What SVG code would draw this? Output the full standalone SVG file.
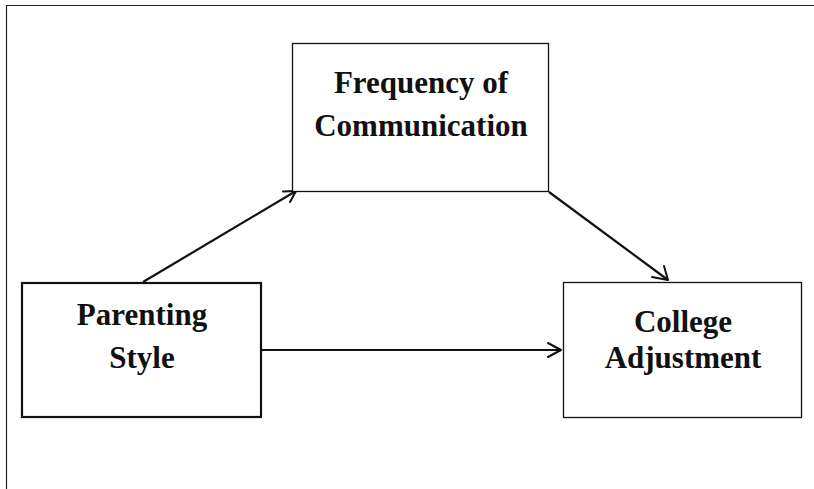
<svg xmlns="http://www.w3.org/2000/svg" width="814" height="489" viewBox="0 0 814 489">
<defs>
<style>
.box{fill:#fff;stroke:#111;stroke-width:1.3}
.thick{stroke-width:2.2}
.t{font-family:"Liberation Serif","Times New Roman",serif;font-weight:bold;font-size:31px;fill:#111;text-anchor:middle}
.c{stroke:#111;stroke-width:2.2;fill:none}
.h{stroke:#111;stroke-width:2;fill:none;stroke-linecap:round;stroke-linejoin:round}
</style>
</defs>
<rect width="814" height="489" fill="#fff"/>
<path d="M6.5,489 V5.5 H814" fill="none" stroke="#222" stroke-width="1.2"/>
<g id="connectors">
<line class="c" x1="143" y1="282" x2="296" y2="191"/>
<path class="h" d="M283,191.5 L296,191 L290,202"/>
<line class="c" x1="549" y1="192" x2="668" y2="280"/>
<path class="h" d="M652,277 L668,280 L664,266"/>
<line class="c" x1="261" y1="350" x2="561" y2="350"/>
<path class="h" d="M548,343 L561,350 L548,357"/>
</g>
<g id="freq">
<rect class="box" x="292.5" y="43.5" width="256" height="148"/>
<text class="t" x="421" y="93">Frequency of</text>
<text class="t" x="421" y="136">Communication</text>
</g>
<g id="parenting">
<rect class="box thick" x="22" y="283" width="239" height="134"/>
<text class="t" x="142" y="325">Parenting</text>
<text class="t" x="142" y="368">Style</text>
</g>
<g id="college">
<rect class="box" x="563.5" y="282.5" width="238" height="135"/>
<text class="t" x="683" y="332">College</text>
<text class="t" x="683" y="368">Adjustment</text>
</g>
</svg>
